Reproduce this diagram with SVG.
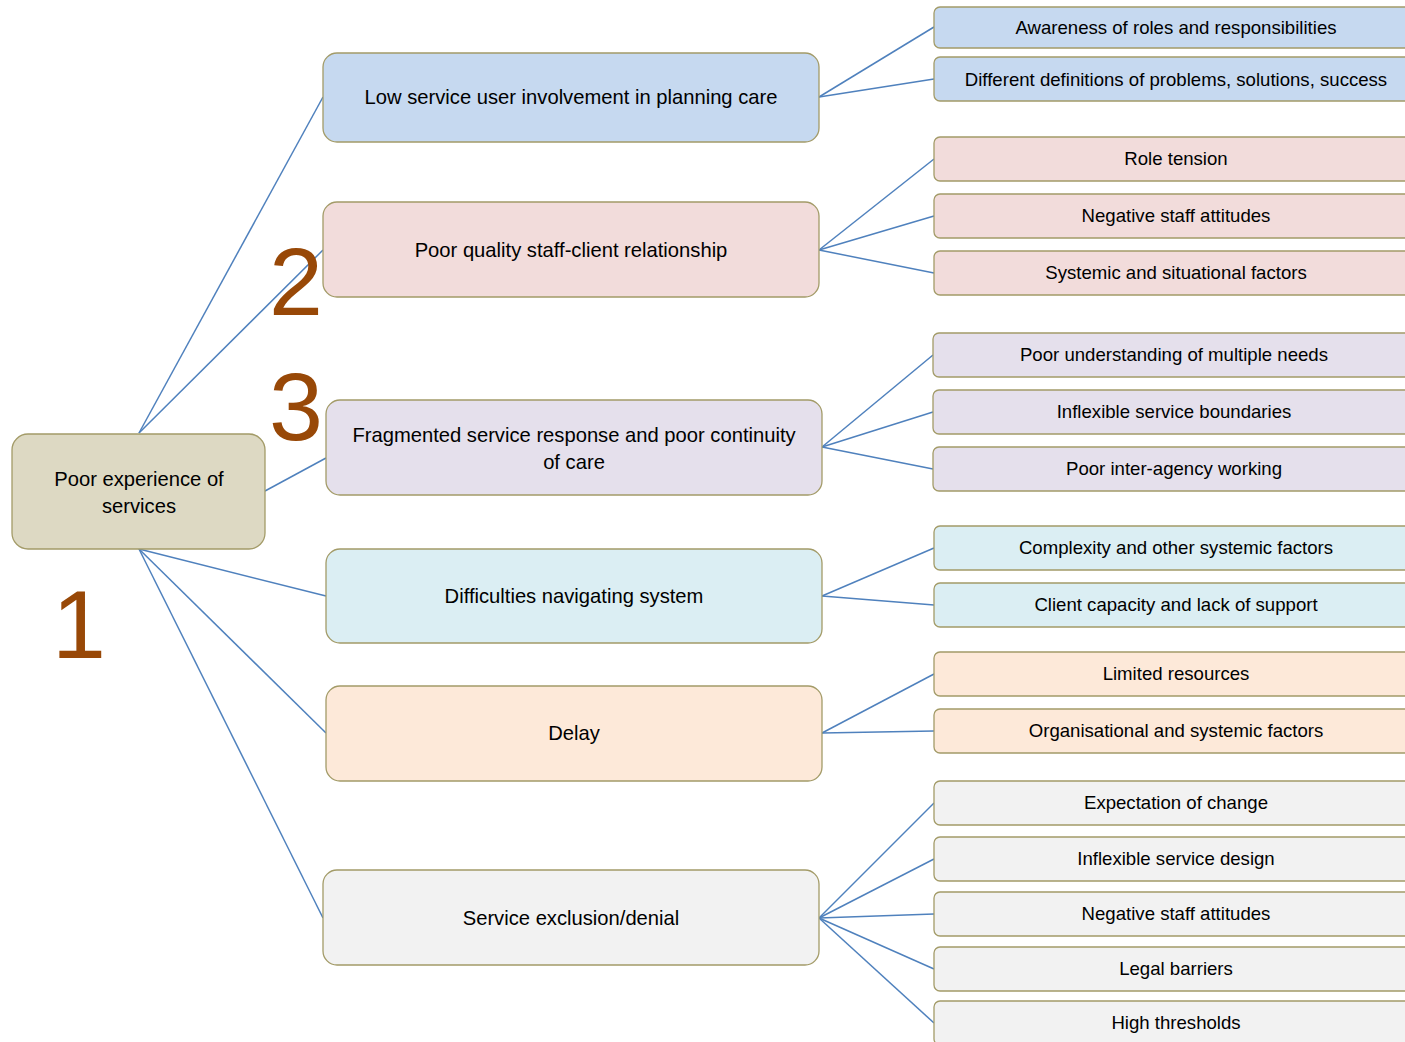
<svg xmlns="http://www.w3.org/2000/svg" width="1405" height="1042" viewBox="0 0 1405 1042">
<style>
.b{stroke:#a39b68;stroke-width:1.3}
.t{font-family:"Liberation Sans",Arial,sans-serif;font-size:20.2px;fill:#000;text-anchor:middle}
.s{font-family:"Liberation Sans",Arial,sans-serif;font-size:18.6px;fill:#000;text-anchor:middle}
.n{font-family:"Liberation Sans",Arial,sans-serif;font-size:97px;fill:#984807;text-anchor:middle}
.c line{stroke:#4f81bd;stroke-width:1.5}
.blue{fill:#c6d9f0}.pink{fill:#f2dcdb}.lav{fill:#e5e0ec}.cyan{fill:#dbeef3}.peach{fill:#fde9d9}.grey{fill:#f2f2f2}
</style>
<rect width="1405" height="1042" fill="#fff"/>
<g class="c" id="connectors">
<line x1="139" y1="433" x2="323" y2="97"/>
<line x1="139" y1="433" x2="323" y2="250"/>
<line x1="265" y1="491" x2="326" y2="458"/>
<line x1="139" y1="549" x2="326" y2="596"/>
<line x1="139" y1="549" x2="326" y2="733"/>
<line x1="139" y1="549" x2="323" y2="918"/>
<line x1="819" y1="97" x2="934" y2="27"/>
<line x1="819" y1="97" x2="934" y2="79"/>
<line x1="819" y1="250" x2="934" y2="159"/>
<line x1="819" y1="250" x2="934" y2="216"/>
<line x1="819" y1="250" x2="934" y2="273"/>
<line x1="822" y1="447" x2="933" y2="355"/>
<line x1="822" y1="447" x2="933" y2="412"/>
<line x1="822" y1="447" x2="933" y2="469"/>
<line x1="822" y1="596" x2="934" y2="548"/>
<line x1="822" y1="596" x2="934" y2="605"/>
<line x1="822" y1="733" x2="934" y2="674"/>
<line x1="822" y1="733" x2="934" y2="731"/>
<line x1="819" y1="918" x2="934" y2="803"/>
<line x1="819" y1="918" x2="934" y2="859"/>
<line x1="819" y1="918" x2="934" y2="914"/>
<line x1="819" y1="918" x2="934" y2="969"/>
<line x1="819" y1="918" x2="934" y2="1023"/>
</g>
<g id="num1"><text class="n" x="79" y="658">1</text></g>
<g id="num2"><text class="n" x="296" y="315">2</text></g>
<g id="num3"><text class="n" x="296" y="440">3</text></g>
<g id="root"><rect class="b" x="12" y="434" width="253" height="115" rx="16" fill="#ddd9c3"/><text class="t" x="139" y="486">Poor experience of</text><text class="t" x="139" y="513">services</text></g>
<g id="n1"><rect class="b blue" x="323" y="53" width="496" height="89" rx="14"/><text class="t" x="571" y="104">Low service user involvement in planning care</text></g>
<g id="n2"><rect class="b pink" x="323" y="202" width="496" height="95" rx="14"/><text class="t" x="571" y="257">Poor quality staff-client relationship</text></g>
<g id="n3"><rect class="b lav" x="326" y="400" width="496" height="95" rx="14"/><text class="t" x="574" y="442">Fragmented service response and poor continuity</text><text class="t" x="574" y="469">of care</text></g>
<g id="n4"><rect class="b cyan" x="326" y="549" width="496" height="94" rx="14"/><text class="t" x="574" y="603">Difficulties navigating system</text></g>
<g id="n5"><rect class="b peach" x="326" y="686" width="496" height="95" rx="14"/><text class="t" x="574" y="740">Delay</text></g>
<g id="n6"><rect class="b grey" x="323" y="870" width="496" height="95" rx="14"/><text class="t" x="571" y="925">Service exclusion/denial</text></g>
<g id="n1a"><rect class="b blue" x="934" y="7" width="484" height="41" rx="6"/><text class="s" x="1176" y="34">Awareness of roles and responsibilities</text></g>
<g id="n1b"><rect class="b blue" x="934" y="57" width="484" height="44" rx="6"/><text class="s" x="1176" y="86">Different definitions of problems, solutions, success</text></g>
<g id="n2a"><rect class="b pink" x="934" y="137" width="484" height="44" rx="6"/><text class="s" x="1176" y="165">Role tension</text></g>
<g id="n2b"><rect class="b pink" x="934" y="194" width="484" height="44" rx="6"/><text class="s" x="1176" y="222">Negative staff attitudes</text></g>
<g id="n2c"><rect class="b pink" x="934" y="251" width="484" height="44" rx="6"/><text class="s" x="1176" y="279">Systemic and situational factors</text></g>
<g id="n3a"><rect class="b lav" x="933" y="333" width="484" height="44" rx="6"/><text class="s" x="1174" y="361">Poor understanding of multiple needs</text></g>
<g id="n3b"><rect class="b lav" x="933" y="390" width="484" height="44" rx="6"/><text class="s" x="1174" y="418">Inflexible service boundaries</text></g>
<g id="n3c"><rect class="b lav" x="933" y="447" width="484" height="44" rx="6"/><text class="s" x="1174" y="475">Poor inter-agency working</text></g>
<g id="n4a"><rect class="b cyan" x="934" y="526" width="484" height="44" rx="6"/><text class="s" x="1176" y="554">Complexity and other systemic factors</text></g>
<g id="n4b"><rect class="b cyan" x="934" y="583" width="484" height="44" rx="6"/><text class="s" x="1176" y="611">Client capacity and lack of support</text></g>
<g id="n5a"><rect class="b peach" x="934" y="652" width="484" height="44" rx="6"/><text class="s" x="1176" y="680">Limited resources</text></g>
<g id="n5b"><rect class="b peach" x="934" y="709" width="484" height="44" rx="6"/><text class="s" x="1176" y="737">Organisational and systemic factors</text></g>
<g id="n6a"><rect class="b grey" x="934" y="781" width="484" height="44" rx="6"/><text class="s" x="1176" y="809">Expectation of change</text></g>
<g id="n6b"><rect class="b grey" x="934" y="837" width="484" height="44" rx="6"/><text class="s" x="1176" y="865">Inflexible service design</text></g>
<g id="n6c"><rect class="b grey" x="934" y="892" width="484" height="44" rx="6"/><text class="s" x="1176" y="920">Negative staff attitudes</text></g>
<g id="n6d"><rect class="b grey" x="934" y="947" width="484" height="44" rx="6"/><text class="s" x="1176" y="975">Legal barriers</text></g>
<g id="n6e"><rect class="b grey" x="934" y="1001" width="484" height="44" rx="6"/><text class="s" x="1176" y="1029">High thresholds</text></g>
</svg>
